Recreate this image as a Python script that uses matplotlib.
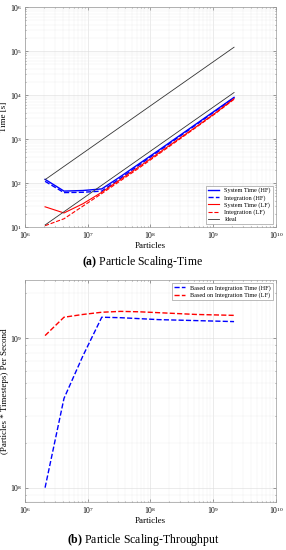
import matplotlib
matplotlib.use('Agg')
import matplotlib.pyplot as plt

plt.rcParams['font.family'] = ['Liberation Serif', 'DejaVu Serif']
plt.rcParams['mathtext.fontset'] = 'custom'
plt.rcParams['mathtext.rm'] = 'Liberation Serif'
plt.rcParams['mathtext.bf'] = 'Liberation Serif:bold'

# particle counts (2^21 ... 2^31)
particles = [2097152, 4194304, 8388608, 16777216, 33554432, 67108864,
             134217728, 268435456, 536870912, 1073741824, 2147483648]

# time [s]
sys_hf = [122, 66, 68, 74, 142, 280, 555, 1110, 2220, 4450, 8900]
int_hf = [110, 61, 62, 66, 130, 262, 525, 1060, 2130, 4300, 8700]
sys_lf = [29, 21, 34, 62, 122, 240, 480, 960, 1920, 3900, 8300]
int_lf = [10.8, 15.5, 30, 58, 114, 225, 455, 920, 1860, 3780, 8050]

ideal_x = [2097152, 2147483648]
ideal_hi = [120, 122880]
ideal_lo = [11.2, 11470]

# throughput (particles * timesteps / s)
thr_hf = [1.0e8, 3.95e8, 7.6e8, 1.38e9, 1.37e9, 1.35e9, 1.33e9, 1.32e9, 1.31e9, 1.30e9, 1.29e9]
thr_lf = [1.04e9, 1.38e9, 1.44e9, 1.49e9, 1.51e9, 1.50e9, 1.48e9, 1.46e9, 1.44e9, 1.43e9, 1.42e9]

fig = plt.figure(figsize=(2.86, 5.5), dpi=100)

def style(ax):
    ax.set_xscale('log')
    ax.set_yscale('log')
    ax.set_xlim(1e6, 1e10)
    ax.grid(True, which='major', color='#dcdcdc', linewidth=0.4)
    ax.grid(True, which='minor', color='#ececec', linewidth=0.3)
    ax.tick_params(which='both', direction='in', labelsize=5.5, length=2, width=0.4,
                   color='#555555', pad=2, top=True, right=True)
    ax.tick_params(which='minor', length=1)
    for s in ax.spines.values():
        s.set_color('#999999')
        s.set_linewidth(0.5)
    ax.set_xlabel('Particles', fontsize=6.5, labelpad=1)

# (a) time
ax1 = fig.add_axes([0.087, 0.587, 0.878, 0.40])
ax1.plot(particles, sys_hf, '-', color='blue', lw=1.0, label='System Time (HF)')
ax1.plot(particles, int_hf, '--', color='blue', lw=1.0, label='Integration (HF)')
ax1.plot(particles, sys_lf, '-', color='red', lw=0.8, label='System Time (LF)')
ax1.plot(particles, int_lf, '--', color='red', lw=0.8, label='Integration (LF)')
ax1.plot(ideal_x, ideal_hi, '-', color='#333333', lw=0.6, label='Ideal')
ax1.plot(ideal_x, ideal_lo, '-', color='#333333', lw=0.6)
style(ax1)
ax1.set_ylim(10, 1e6)
ax1.set_ylabel('Time [s]', fontsize=6.5, labelpad=1)
leg = ax1.legend(loc='lower right', fontsize=4.5, handlelength=1.8, borderpad=0.3,
                 labelspacing=0.25, fancybox=False, framealpha=1, edgecolor='#888888')
leg.get_frame().set_linewidth(0.4)

fig.text(0.5, 1 - 262 / 550, r'$\mathbf{(a)}$ Particle Scaling-Time', ha='center', va='center', fontsize=8.5)

# (b) throughput
ax2 = fig.add_axes([0.087, 0.087, 0.878, 0.404])
ax2.plot(particles, thr_hf, '--', color='blue', lw=1.0, label='Based on Integration Time (HF)')
ax2.plot(particles, thr_lf, '--', color='red', lw=1.0, label='Based on Integration Time (LF)')
style(ax2)
ax2.set_ylim(8.0e7, 2.45e9)
ax2.set_ylabel('(Particles * Timesteps) Per Second', fontsize=6.5, labelpad=1)
leg2 = ax2.legend(loc='upper right', fontsize=4.5, handlelength=1.8, borderpad=0.3,
                  labelspacing=0.25, fancybox=False, framealpha=1, edgecolor='#888888')
leg2.get_frame().set_linewidth(0.4)

fig.text(0.5, 1 - 540 / 550, r'$\mathbf{(b)}$ Particle Scaling-Throughput', ha='center', va='center', fontsize=8.5)

fig.savefig('out.png', dpi=100)
